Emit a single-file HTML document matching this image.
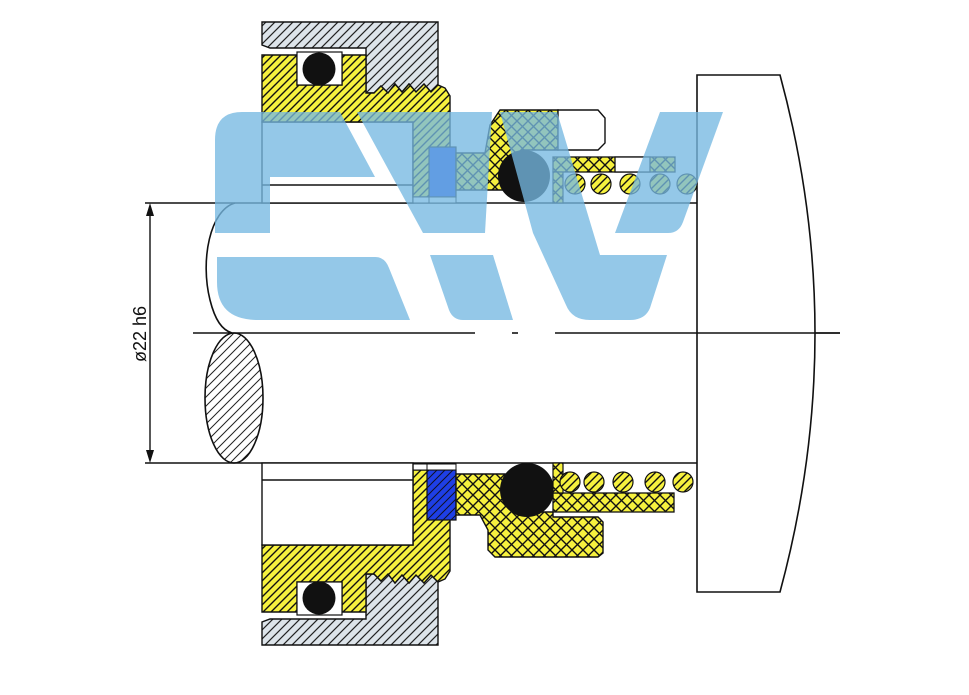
<!DOCTYPE html>
<html><head><meta charset="utf-8"><style>
html,body{margin:0;padding:0;background:#fff;}
svg{display:block;}
text{font-family:"Liberation Sans",sans-serif;}
</style></head><body>
<svg width="969" height="695" viewBox="0 0 969 695" xmlns="http://www.w3.org/2000/svg">
<defs>
<pattern id="hy" patternUnits="userSpaceOnUse" width="8" height="8"><rect width="8" height="8" fill="#f6f13e"/><path d="M0,8L8,0M-2,2L2,-2M6,10L10,6" stroke="#111" stroke-width="1.4"/></pattern>
<pattern id="hyR" patternUnits="userSpaceOnUse" width="8" height="8"><rect width="8" height="8" fill="#f6f13e"/><path d="M0,0L8,8M-2,6L2,10M6,-2L10,2" stroke="#111" stroke-width="1.4"/></pattern>
<pattern id="hg" patternUnits="userSpaceOnUse" width="9" height="9"><rect width="9" height="9" fill="#dde4ea"/><path d="M0,9L9,0M-2,2L2,-2M7,11L11,7" stroke="#222" stroke-width="1.2"/></pattern>
<pattern id="hgR" patternUnits="userSpaceOnUse" width="9" height="9"><rect width="9" height="9" fill="#dde4ea"/><path d="M0,0L9,9M-2,7L2,11M7,-2L11,2" stroke="#222" stroke-width="1.2"/></pattern>
<pattern id="hbR" patternUnits="userSpaceOnUse" width="8" height="8"><rect width="8" height="8" fill="#1e3fe6"/><path d="M0,0L8,8M-2,6L2,10M6,-2L10,2" stroke="#112" stroke-width="1"/></pattern>
<pattern id="xy" patternUnits="userSpaceOnUse" width="11" height="11"><rect width="11" height="11" fill="#f6f13e"/><path d="M0,11L11,0M0,0L11,11" stroke="#111" stroke-width="1.4"/></pattern>
<pattern id="hl" patternUnits="userSpaceOnUse" width="9" height="9"><path d="M0,9L9,0M-2,2L2,-2M7,11L11,7" stroke="#222" stroke-width="1"/></pattern>
</defs>

<g stroke="#111" stroke-width="1.6">
<line x1="193" y1="333" x2="475" y2="333"/>
<line x1="512" y1="333" x2="518" y2="333"/>
<line x1="555" y1="333" x2="840" y2="333"/>
</g>

<path d="M697,75 L780,75 Q850,333 780,592 L697,592 Z" fill="#fff" stroke="#111" stroke-width="1.6"/>
<line x1="697" y1="333" x2="840" y2="333" stroke="#111" stroke-width="1.6"/>

<g stroke="#111" stroke-width="1.6" fill="none">
<line x1="145" y1="203" x2="697" y2="203"/>
<line x1="145" y1="463" x2="697" y2="463"/>
<path d="M235,203 C210,210 200,260 210,300 C215,320 222,330 232,333"/>
</g>
<ellipse cx="234" cy="398" rx="29" ry="65" fill="url(#hl)" stroke="#111" stroke-width="1.6"/>
<line x1="150" y1="206" x2="150" y2="460" stroke="#111" stroke-width="1.4"/>
<path d="M150,203 L146,216 L154,216 Z M150,463 L146,450 L154,450 Z" fill="#111"/>
<text x="0" y="0" font-size="18" fill="#111" text-anchor="middle" transform="translate(146,334) rotate(-90)">ø22 h6</text>

<rect x="262" y="122" width="151" height="81" fill="#fff" stroke="#111" stroke-width="1.4"/>
<line x1="262" y1="185" x2="413" y2="185" stroke="#111" stroke-width="1.4"/>

<path d="M262,22 L438,22 L438,85 L431,92 L424,84 L416,92 L409,84 L402,92 L395,84 L388,93 L381,86 L374,93 L366,93 L366,48 L270,48 L262,45 Z" fill="url(#hg)" stroke="#111" stroke-width="1.4"/>
<path d="M262,55 L297,55 L297,85 L342,85 L342,55 L366,55 L366,93 L374,93 L381,86 L388,93 L395,84 L402,92 L409,84 L416,92 L424,84 L431,92 L438,85 L445,88 L450,96 L450,197 L413,197 L413,122 L262,122 Z" fill="url(#hy)" stroke="#111" stroke-width="1.4"/>
<rect x="297" y="52" width="45" height="33" fill="#fff" stroke="#111" stroke-width="1.2"/>
<circle cx="319" cy="69" r="16.5" fill="#111"/>
<rect x="429" y="147" width="27" height="50" fill="#1e3fe6" stroke="#111" stroke-width="1.2"/>
<rect x="413" y="197" width="16" height="6" fill="#fff" stroke="#111" stroke-width="1"/>
<rect x="429" y="197" width="27" height="6" fill="#fff" stroke="#111" stroke-width="1"/>

<g transform="matrix(1,0,0,-1,0,667)">
<path d="M262,22 L438,22 L438,85 L431,92 L424,84 L416,92 L409,84 L402,92 L395,84 L388,93 L381,86 L374,93 L366,93 L366,48 L270,48 L262,45 Z" fill="url(#hgR)" stroke="#111" stroke-width="1.4"/>
<path d="M262,55 L297,55 L297,85 L342,85 L342,55 L366,55 L366,93 L374,93 L381,86 L388,93 L395,84 L402,92 L409,84 L416,92 L424,84 L431,92 L438,85 L445,88 L450,96 L450,197 L413,197 L413,122 L262,122 Z" fill="url(#hyR)" stroke="#111" stroke-width="1.4"/>
<rect x="297" y="52" width="45" height="33" fill="#fff" stroke="#111" stroke-width="1.2"/>
<circle cx="319" cy="69" r="16.5" fill="#111"/>
<rect x="427" y="147" width="29" height="50" fill="url(#hbR)" stroke="#111" stroke-width="1.2"/>
<rect x="413" y="197" width="14" height="6" fill="#fff" stroke="#111" stroke-width="1"/>
<rect x="427" y="197" width="29" height="6" fill="#fff" stroke="#111" stroke-width="1"/>
</g>
<rect x="262" y="463" width="151" height="82" fill="#fff" stroke="#111" stroke-width="1.4"/>
<line x1="262" y1="480" x2="413" y2="480" stroke="#111" stroke-width="1.4"/>

<path d="M456,153 L485,153 L490,125 L500,110 L558,110 L558,150 L522,150 L510,190 L456,190 Z" fill="url(#xy)" stroke="#111" stroke-width="1.4"/>
<path d="M558,110 L598,110 L605,118 L605,143 L598,150 L558,150 Z" fill="#fff" stroke="#111" stroke-width="1.4"/>
<circle cx="524" cy="176" r="26" fill="#111"/>
<rect x="553" y="157" width="122" height="15" fill="url(#xy)" stroke="#111" stroke-width="1.3"/>
<rect x="615" y="157" width="35" height="15" fill="#fff" stroke="#111" stroke-width="1.3"/>
<rect x="553" y="172" width="10" height="31" fill="url(#xy)" stroke="#111" stroke-width="1.2"/>
<g fill="url(#hy)" stroke="#111" stroke-width="1.2">
<circle cx="575" cy="184" r="10"/><circle cx="601" cy="184" r="10"/><circle cx="630" cy="184" r="10"/><circle cx="660" cy="184" r="10"/><circle cx="687" cy="184" r="10"/>
</g>

<path d="M456,474 L505,474 L505,505 L540,512 L553,512 L553,517 L598,517 L603,522 L603,553 L598,557 L495,557 L488,550 L488,530 L480,515 L456,515 Z" fill="url(#xy)" stroke="#111" stroke-width="1.4"/>
<circle cx="527" cy="490" r="27" fill="#111"/>
<rect x="553" y="493" width="121" height="19" fill="url(#xy)" stroke="#111" stroke-width="1.3"/>
<rect x="553" y="463" width="10" height="30" fill="url(#xy)" stroke="#111" stroke-width="1.2"/>
<g fill="url(#hy)" stroke="#111" stroke-width="1.2">
<circle cx="570" cy="482" r="10"/><circle cx="594" cy="482" r="10"/><circle cx="623" cy="482" r="10"/><circle cx="655" cy="482" r="10"/><circle cx="683" cy="482" r="10"/>
</g>

<g fill="rgb(118,184,226)" fill-opacity="0.78">
<path d="M242,112 L340,112 L375,177 L270,177 L270,233 L215,233 L215,140 Q215,112 242,112 Z"/>
<path d="M217,257 L375,257 Q385,257 389,268 L410,320 L258,320 Q217,320 217,282 Z"/>
<path d="M357,112 L492,112 L485,233 L423,233 Z"/>
<path d="M430,255 L493,255 L513,320 L463,320 Q453,320 449,310 Z"/>
<path d="M500,112 L557,112 L600,255 L667,255 L650,308 Q645,320 630,320 L590,320 Q572,320 566,305 L533,233 Z"/>
<path d="M660,112 L723,112 L683,222 Q679,233 668,233 L615,233 Z"/>
</g>
</svg>
</body></html>
